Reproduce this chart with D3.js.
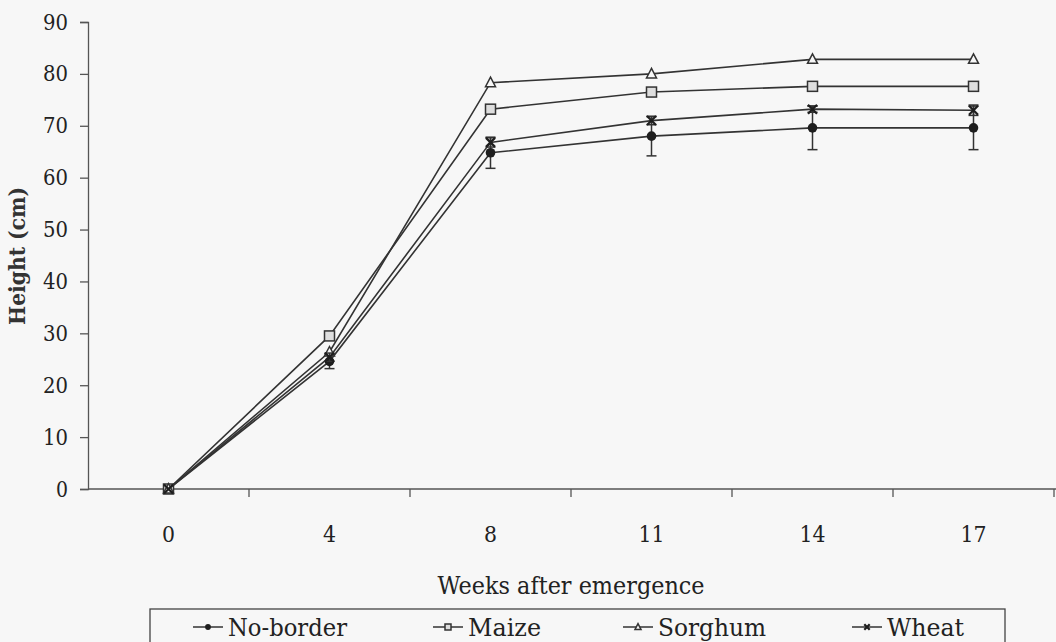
<!DOCTYPE html>
<html>
<head>
<meta charset="utf-8">
<script src="https://cdn.jsdelivr.net/npm/d3@7"></script>
<style>
  body { margin: 0; background: #f7f7f7; }
  svg { display: block; font-family: "DejaVu Serif", serif; }
</style>
</head>
<body>
<svg id="chart"></svg>
<script>
// chart data
const weeks = ["0", "4", "8", "11", "14", "17"];
const noBorder = [0, 24.6, 64.8, 68.0, 69.6, 69.6];
const noBorderErr = [0, 1.4, 3.0, 3.8, 4.2, 4.2];
const maize = [0, 29.5, 73.2, 76.5, 77.6, 77.6];
const maizeErr = [0, 0, 0, 0, 0, 0];
const sorghum = [0, 26.4, 78.3, 80.0, 82.8, 82.8];
const sorghumErr = [0, 0, 0, 0, 0, 0];
const wheat = [0, 25.4, 66.8, 71.0, 73.2, 73.0];
const wheatErr = [0, 0.8, 0.9, 0.8, 0.6, 1.0];
const seriesNames = ["No-border", "Maize", "Sorghum", "Wheat"];
const yTicks = [0, 10, 20, 30, 40, 50, 60, 70, 80, 90];

const W = 1056, H = 642;
const svg = d3.select("#chart").attr("width", W).attr("height", H);

svg.append("rect").attr("width", W).attr("height", H).attr("fill", "#f7f7f7");

const plot = { left: 88, right: 1054, top: 22, bottom: 489 };

const x = d3.scaleBand().domain(weeks).range([plot.left, plot.right]);
const y = d3.scaleLinear().domain([0, 90]).range([plot.bottom, plot.top]);

const ink = "#222";
const axisCol = "#555";
const serif = "DejaVu Serif, serif";

// y axis
const yAxis = d3.axisLeft(y).tickValues(yTicks).tickSize(8).tickPadding(12);
const gy = svg.append("g").attr("transform", `translate(${plot.left},0)`).call(yAxis);
gy.select(".domain").attr("stroke", axisCol).attr("stroke-width", 1.3);
gy.selectAll(".tick line").attr("stroke", axisCol).attr("stroke-width", 1.3);
gy.selectAll(".tick text").attr("font-size", 22).attr("fill", ink)
  .attr("font-family", serif).attr("textLength", d => d >= 10 ? 25 : 12)
  .attr("lengthAdjust", "spacingAndGlyphs");

// x axis: ticks on the band edges, labels in the band centres
const gx = svg.append("g").attr("transform", `translate(0,${plot.bottom})`);
gx.append("line").attr("x1", plot.left).attr("x2", W)
  .attr("stroke", axisCol).attr("stroke-width", 1.3);
const edges = weeks.map(w => x(w) + x.bandwidth());
gx.selectAll(".edge").data(edges).enter().append("line")
  .attr("x1", d => d).attr("x2", d => d).attr("y1", 0).attr("y2", 8)
  .attr("stroke", axisCol).attr("stroke-width", 1.3);
gx.selectAll(".lbl").data(weeks).enter().append("text")
  .attr("x", d => x(d) + x.bandwidth() / 2).attr("y", 53)
  .attr("text-anchor", "middle").attr("font-size", 23).attr("fill", ink)
  .attr("textLength", d => d.length > 1 ? 26 : 13).attr("lengthAdjust", "spacingAndGlyphs")
  .text(d => d);

svg.append("text").attr("x", (plot.left + plot.right) / 2).attr("y", 594)
  .attr("text-anchor", "middle").attr("font-size", 24).attr("fill", ink)
  .attr("textLength", 267).attr("lengthAdjust", "spacingAndGlyphs")
  .text("Weeks after emergence");

svg.append("text").attr("transform", "translate(25,256) rotate(-90)")
  .attr("text-anchor", "middle").attr("font-size", 22).attr("font-weight", "bold")
  .attr("fill", "#333").attr("textLength", 138).attr("lengthAdjust", "spacingAndGlyphs")
  .text("Height (cm)");

const cx = w => x(w) + x.bandwidth() / 2;

const series = [
  { name: seriesNames[0], values: noBorder, err: noBorderErr, shape: "circle", len: 119 },
  { name: seriesNames[1], values: maize, err: maizeErr, shape: "square", len: 73 },
  { name: seriesNames[2], values: sorghum, err: sorghumErr, shape: "triangle", len: 108 },
  { name: seriesNames[3], values: wheat, err: wheatErr, shape: "cross", len: 77 }
];

const line = d3.line().x(d => cx(d.w)).y(d => y(d.v));

function drawMarker(g, shape, px, py, s) {
  if (shape === "circle") {
    g.append("circle").attr("cx", px).attr("cy", py).attr("r", 4.8 * s).attr("fill", "#1e1e1e");
  } else if (shape === "square") {
    g.append("rect").attr("x", px - 5 * s).attr("y", py - 5 * s)
      .attr("width", 10 * s).attr("height", 10 * s)
      .attr("fill", "#dedede").attr("stroke", "#333").attr("stroke-width", 1.5);
  } else if (shape === "triangle") {
    g.append("path")
      .attr("d", `M${px},${py - 5.5 * s}L${px + 5 * s},${py + 4 * s}L${px - 5 * s},${py + 4 * s}Z`)
      .attr("fill", "#f7f7f7").attr("stroke", "#333").attr("stroke-width", 1.5);
  } else {
    g.append("path")
      .attr("d", `M${px - 4.5 * s},${py - 4.5 * s}L${px + 4.5 * s},${py + 4.5 * s}M${px + 4.5 * s},${py - 4.5 * s}L${px - 4.5 * s},${py + 4.5 * s}`)
      .attr("stroke", "#1e1e1e").attr("stroke-width", 2.2);
  }
}

series.forEach(sr => {
  const pts = sr.values.map((v, i) => ({ w: weeks[i], v: v, e: sr.err[i] }));
  const g = svg.append("g");
  g.append("path").datum(pts).attr("d", line).attr("fill", "none")
    .attr("stroke", "#333").attr("stroke-width", 1.6);
  pts.filter(p => p.e > 0).forEach(p => {
    const px = cx(p.w);
    g.append("line").attr("x1", px).attr("x2", px)
      .attr("y1", y(p.v - p.e)).attr("y2", y(p.v + p.e))
      .attr("stroke", "#333").attr("stroke-width", 1.5);
    [p.v - p.e, p.v + p.e].forEach(ev => {
      g.append("line").attr("x1", px - 5).attr("x2", px + 5)
        .attr("y1", y(ev)).attr("y2", y(ev))
        .attr("stroke", "#333").attr("stroke-width", 1.5);
    });
  });
  pts.forEach(p => drawMarker(g, sr.shape, cx(p.w), y(p.v), 1));
});

// legend
const legend = svg.append("g").attr("transform", "translate(150,609)");
legend.append("rect").attr("width", 855).attr("height", 50)
  .attr("fill", "#f7f7f7").attr("stroke", "#444").attr("stroke-width", 1.3);
const legendX = [43, 283, 473, 702];
series.forEach((sr, i) => {
  const g = legend.append("g").attr("transform", `translate(${legendX[i]},0)`);
  g.append("line").attr("x1", 0).attr("x2", 30).attr("y1", 18).attr("y2", 18)
    .attr("stroke", "#333").attr("stroke-width", 1.5);
  drawMarker(g, sr.shape, 15, 18, 0.6);
  g.append("text").attr("x", 35).attr("y", 27).attr("font-size", 24)
    .attr("fill", ink).attr("textLength", sr.len).attr("lengthAdjust", "spacingAndGlyphs")
    .text(sr.name);
});
</script>
</body>
</html>
